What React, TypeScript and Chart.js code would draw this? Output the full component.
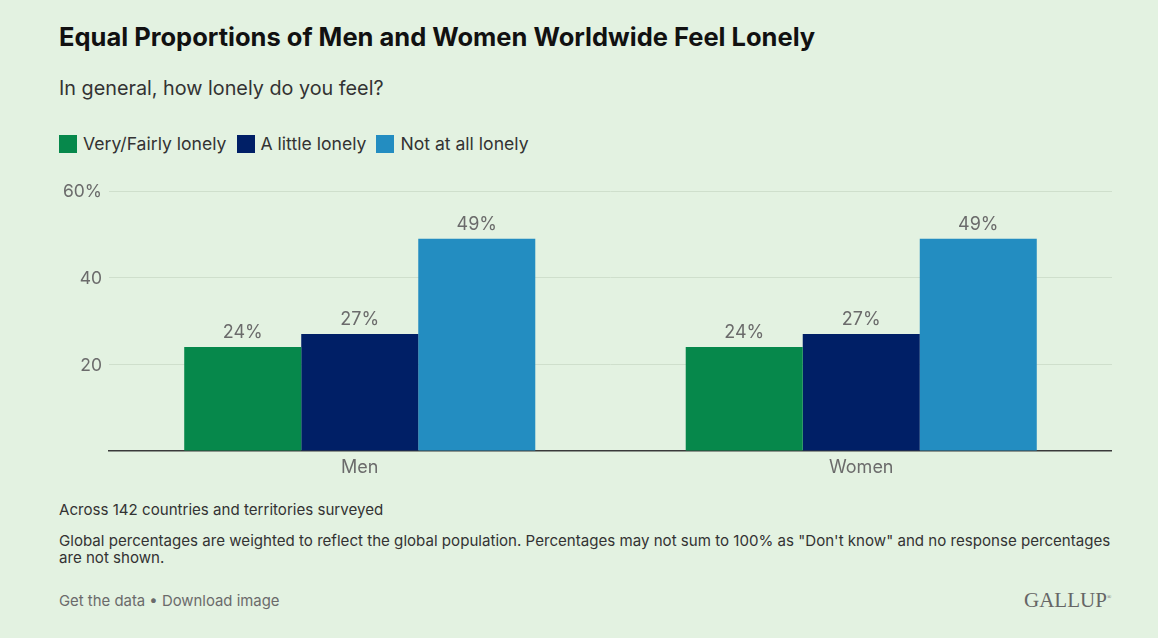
import React, { useEffect, useRef } from "react";
import { Chart, registerables } from "chart.js";

Chart.register(...registerables);

const categories = ["Men", "Women"];
const seriesNames = ["Very/Fairly lonely", "A little lonely", "Not at all lonely"];
const veryFairly = [24, 24];
const aLittle = [27, 27];
const notAtAll = [49, 49];
const seriesColors = ["#06884b", "#001f66", "#238dc1"];
const yTicks = [0, 20, 40, 60];

const FONT = "Inter, 'Noto Sans', Roboto, sans-serif";

const labelPlugin = {
  id: "barLabels",
  afterDatasetsDraw(chart: any) {
    const ctx = chart.ctx;
    ctx.save();
    ctx.fillStyle = "#6b6b6b";
    ctx.font = `18px ${FONT}`;
    ctx.textAlign = "center";
    ctx.textBaseline = "bottom";
    chart.data.datasets.forEach((ds: any, i: number) => {
      const meta = chart.getDatasetMeta(i);
      meta.data.forEach((bar: any, j: number) => {
        ctx.fillText(`${ds.data[j]}%`, bar.x, bar.y - 5);
      });
    });
    ctx.restore();
  },
};

export default function App() {
  const ref = useRef<HTMLCanvasElement>(null);
  useEffect(() => {
    const chart = new Chart(ref.current!, {
      type: "bar",
      data: {
        labels: categories,
        datasets: [veryFairly, aLittle, notAtAll].map((d, i) => ({
          label: seriesNames[i],
          data: d,
          backgroundColor: seriesColors[i],
          categoryPercentage: 0.7,
          barPercentage: 1,
        })),
      },
      options: {
        animation: false,
        responsive: false,
        maintainAspectRatio: false,
        layout: { padding: { top: 21, right: 0, left: 0, bottom: 0 } },
        plugins: { legend: { display: false }, tooltip: { enabled: false } },
        scales: {
          x: {
            grid: { display: false },
            border: { display: true, color: "#3a3a3a", width: 1.5 },
            ticks: { color: "#6b6b6b", font: { family: FONT, size: 18 }, padding: -2 },
            afterFit: (s: any) => {
              s.height = 39;
            },
          },
          y: {
            min: 0,
            max: 60,
            afterBuildTicks: (s: any) => {
              s.ticks = yTicks.map((v) => ({ value: v }));
            },
            afterFit: (s: any) => {
              s.width = 69;
            },
            border: { display: false },
            grid: {
              color: (c: any) => (c.tick && c.tick.value === 0 ? "rgba(0,0,0,0)" : "#cfdfcc"),
              drawTicks: false,
            },
            ticks: {
              color: "#6b6b6b",
              font: { family: FONT, size: 17.5 },
              padding: 7,
              labelOffset: 1,
              callback: (v: any) => (v === 0 ? "" : v === 60 ? "60%" : String(v)),
            },
          },
        },
      },
      plugins: [labelPlugin],
    });
    return () => chart.destroy();
  }, []);

  const text = (style: React.CSSProperties, content: React.ReactNode) => (
    <div style={{ position: "absolute", whiteSpace: "nowrap", fontFamily: FONT, ...style }}>{content}</div>
  );

  return (
    <div style={{ position: "fixed", left: 0, top: 0, width: 1158, height: 638, background: "#e3f2e1", overflow: "hidden" }}>
      {text({ left: 59, top: 21, fontSize: 25.5, fontWeight: 700, color: "#111" }, "Equal Proportions of Men and Women Worldwide Feel Lonely")}
      {text({ left: 59, top: 76, fontSize: 19.8, color: "#333" }, "In general, how lonely do you feel?")}
      <div style={{ position: "absolute", left: 59, top: 133, display: "flex", alignItems: "center", fontFamily: FONT, fontSize: 17.6, color: "#333" }}>
        {seriesNames.map((n, i) => (
          <div key={n} style={{ display: "flex", alignItems: "center", marginRight: 10 }}>
            <span style={{ display: "inline-block", width: 18, height: 18, background: seriesColors[i], marginRight: 6 }} />
            <span>{n}</span>
          </div>
        ))}
      </div>
      <canvas ref={ref} width={1072} height={320} style={{ position: "absolute", left: 40, top: 170, width: 1072, height: 320 }} />
      {text({ left: 59, top: 500, fontSize: 15.1, color: "#333" }, "Across 142 countries and territories surveyed")}
      <div style={{ position: "absolute", left: 59, top: 532, width: 1075, fontFamily: FONT, fontSize: 15.1, lineHeight: "17px", color: "#333" }}>
        Global percentages are weighted to reflect the global population. Percentages may not sum to 100% as "Don't know" and no response percentages are not shown.
      </div>
      {text({ left: 59, top: 592, fontSize: 14.9, color: "#6b6b6b" }, "Get the data • Download image")}
      {text({ left: 1024, top: 588, fontSize: 21, color: "#666", fontFamily: "'Liberation Serif', 'DejaVu Serif', serif", letterSpacing: 0 }, <span>GALLUP<sup style={{ fontSize: 6 }}>®</sup></span>)}
    </div>
  );
}
